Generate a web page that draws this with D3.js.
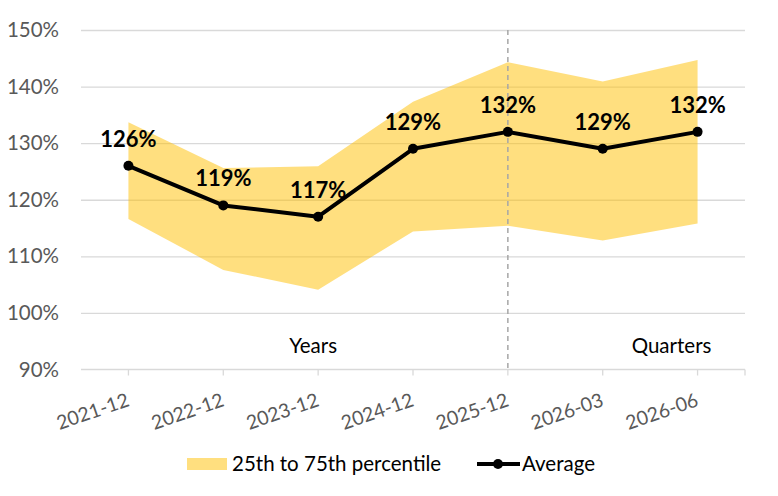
<!DOCTYPE html>
<html>
<head>
<meta charset="utf-8">
<script src="https://cdn.jsdelivr.net/npm/d3@7"></script>
<style>
  body { margin: 0; background: #fff; }
  svg { font-family: Lato, "Open Sans", sans-serif; }
</style>
</head>
<body>
<svg id="chart" width="778" height="496"></svg>
<script>
// data
const categories = ['2021-12', '2022-12', '2023-12', '2024-12', '2025-12', '2026-03', '2026-06'];
const average = [126, 119, 117, 129, 132, 129, 132];
const p25 = [116.6, 107.6, 104.1, 114.4, 115.4, 112.8, 115.8];
const p75 = [133.7, 125.6, 125.9, 137.3, 144.3, 140.9, 144.7];
const yTicks = [90, 100, 110, 120, 130, 140, 150];
const splitAt = '2025-12';
const sectionLabels = [{ text: 'Years', at: '2023-12', dx: -5 }, { text: 'Quarters', at: '2026-06', dx: -26 }];

const MARGIN = { top: 30, right: 33, bottom: 126.5, left: 81 };
const W = 778, H = 496;
const iw = W - MARGIN.left - MARGIN.right;
const ih = H - MARGIN.top - MARGIN.bottom;

const svg = d3.select('#chart');
const g = svg.append('g').attr('transform', `translate(${MARGIN.left},${MARGIN.top})`);

const x = d3.scaleBand().domain(categories).range([0, iw]);
const cx = c => x(c) + x.bandwidth() / 2;
const y = d3.scaleLinear().domain([90, 150]).range([ih, 0]);

// grid
g.append('g')
    .call(d3.axisLeft(y).tickValues(yTicks.slice(1)).tickSize(-iw).tickFormat(''))
    .call(a => a.select('.domain').remove())
    .call(a => a.selectAll('line').attr('stroke', '#d9d9d9').attr('stroke-width', 1.3));

// y labels
g.append('g')
    .call(d3.axisLeft(y).tickValues(yTicks).tickSize(0).tickPadding(22).tickFormat(d => d + '%'))
    .call(a => a.select('.domain').remove())
    .call(a => a.selectAll('text').attr('fill', '#595959').style('font-size', '20.5px')
        .style('font-family', 'Lato, sans-serif'));

// band
const rows = categories.map((c, i) => ({ c, lo: p25[i], hi: p75[i], avg: average[i] }));
g.append('path')
    .datum(rows)
    .attr('fill', '#ffc000')
    .attr('fill-opacity', 0.5)
    .attr('d', d3.area().x(d => cx(d.c)).y0(d => y(d.lo)).y1(d => y(d.hi)));

// x axis
g.append('g')
    .attr('transform', `translate(0,${ih})`)
    .call(d3.axisBottom(x).tickSize(6).tickPadding(0))
    .call(a => a.select('.domain').attr('stroke', '#d9d9d9').attr('stroke-width', 1.3).attr('d', `M0,0H${iw}`))
    .call(a => a.selectAll('.tick line').attr('stroke', '#d9d9d9').attr('stroke-width', 1.3))
    .call(a => a.selectAll('text')
        .attr('fill', '#595959')
        .style('font-size', '19.5px')
        .style('font-family', 'Lato, sans-serif')
        .attr('text-anchor', 'end')
        .attr('y', 0)
        .attr('dy', 0)
        .attr('transform', 'translate(2,36) rotate(-19)'));
g.append('line')
    .attr('x1', iw).attr('x2', iw).attr('y1', ih).attr('y2', ih + 6)
    .attr('stroke', '#d9d9d9').attr('stroke-width', 1.3);

// split line
g.append('line')
    .attr('x1', cx(splitAt)).attr('x2', cx(splitAt))
    .attr('y1', 0).attr('y2', ih)
    .attr('stroke', '#a6a6a6').attr('stroke-width', 1.5)
    .attr('stroke-dasharray', '5,4');

// section labels
g.selectAll('.section')
    .data(sectionLabels)
    .join('text')
    .attr('x', d => cx(d.at) + d.dx)
    .attr('y', y(92.9))
    .attr('text-anchor', 'middle')
    .attr('fill', '#000')
    .style('font-size', '20.5px')
    .text(d => d.text);

// average line
g.append('path')
    .datum(rows)
    .attr('fill', 'none')
    .attr('stroke', '#000')
    .attr('stroke-width', 4)
    .attr('stroke-linejoin', 'round')
    .attr('d', d3.line().x(d => cx(d.c)).y(d => y(d.avg)));

g.selectAll('.dot')
    .data(rows)
    .join('circle')
    .attr('cx', d => cx(d.c))
    .attr('cy', d => y(d.avg))
    .attr('r', 5)
    .attr('fill', '#000');

g.selectAll('.lbl')
    .data(rows)
    .join('text')
    .attr('x', d => cx(d.c))
    .attr('y', d => y(d.avg) - 19)
    .attr('text-anchor', 'middle')
    .attr('font-weight', 'bold')
    .style('font-size', '22px')
    .text(d => d.avg + '%');

// legend
const lg = svg.append('g').attr('transform', 'translate(0,464)');
lg.append('rect').attr('x', 187).attr('y', -6).attr('width', 40).attr('height', 12)
    .attr('fill', '#ffc000').attr('fill-opacity', 0.5);
lg.append('text').attr('x', 232).attr('y', 6.5).style('font-size', '20.5px').text('25th to 75th percentile');
lg.append('line').attr('x1', 477).attr('x2', 520).attr('y1', 0).attr('y2', 0)
    .attr('stroke', '#000').attr('stroke-width', 4);
lg.append('circle').attr('cx', 498).attr('cy', 0).attr('r', 5).attr('fill', '#000');
lg.append('text').attr('x', 522).attr('y', 6.5).style('font-size', '20.5px').text('Average');
</script>
</body>
</html>
